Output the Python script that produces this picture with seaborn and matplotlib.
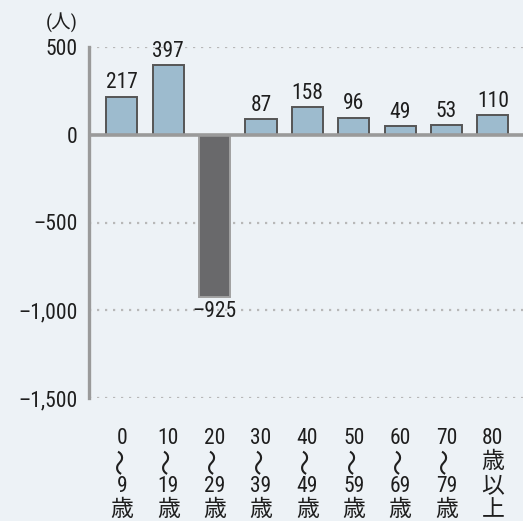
import matplotlib
matplotlib.use("Agg")
import matplotlib.pyplot as plt
import matplotlib.transforms as mtransforms
import seaborn as sns
import pandas as pd

# Net population change by age group
age_groups = ["0〜9歳", "10〜19歳", "20〜29歳", "30〜39歳", "40〜49歳",
              "50〜59歳", "60〜69歳", "70〜79歳", "80歳以上"]
# each axis label written top-to-bottom, one entry per line
label_lines = [["0", "〜", "9", "歳"], ["10", "〜", "19", "歳"], ["20", "〜", "29", "歳"],
               ["30", "〜", "39", "歳"], ["40", "〜", "49", "歳"], ["50", "〜", "59", "歳"],
               ["60", "〜", "69", "歳"], ["70", "〜", "79", "歳"], ["80", "歳", "以", "上"]]
values = [217, 397, -925, 87, 158, 96, 49, 53, 110]
y_ticks = [500, 0, -500, -1000, -1500]
unit_label = "(人)"

sns.set_theme(style="white")
FONT = ["Roboto Condensed", "Noto Sans CJK JP", "DejaVu Sans"]
plt.rcParams["font.family"] = FONT

BG = "#edf2f6"
POS = "#95bdd6"
NEG = "#69696b"
INK = "#1e1e1e"
MINUS = "–"

W, H = 523, 521
df = pd.DataFrame({"age": age_groups, "value": values})
colors = [POS if v >= 0 else NEG for v in values]

fig = plt.figure(figsize=(W / 100, H / 100), dpi=100, facecolor=BG)
ax = fig.add_axes([89 / W, 123 / H, 1 - 89 / W, 351 / H])
ax.set_facecolor(BG)

sns.barplot(data=df, x="age", y="value", hue="age", palette=colors,
            legend=False, width=0.67, ax=ax, zorder=3)

for patch, v in zip(ax.patches, values):
    patch.set_edgecolor("#555555" if v >= 0 else "#a0a0a0")
    patch.set_linewidth(1.4)

ax.set_xlim(-0.71, 8.65)
ax.set_ylim(-1500, 500)

# dotted reference lines and solid zero line
for y in [500, -500, -1000, -1500]:
    ax.axhline(y, color="#b8b8b8", lw=1.6, ls=(0, (1, 2.6)), zorder=1)
ax.axhline(0, color="#9a9a9a", lw=2.6, zorder=4)

for s in ["top", "right", "bottom"]:
    ax.spines[s].set_visible(False)
ax.spines["left"].set_color("#9a9a9a")
ax.spines["left"].set_linewidth(2.4)

ax.set_yticks(y_ticks)
ax.set_yticklabels([f"{t:,}".replace("-", MINUS) for t in y_ticks])
ax.tick_params(axis="y", length=0, pad=8, labelsize=15.5, colors=INK)
ax.set_xticks(range(len(age_groups)))
ax.set_xticklabels([])
ax.tick_params(axis="x", length=0)
ax.set_xlabel("")
ax.set_ylabel("")

# vertical category labels under each bar
trans = mtransforms.blended_transform_factory(ax.transData, fig.transFigure)
line_y = [438, 461, 486, 510]
for i, lines in enumerate(label_lines):
    for text, yp in zip(lines, line_y):
        if text == "〜":
            ax.text(i, 1 - yp / H, text, transform=trans, ha="center", va="center",
                    fontsize=19, rotation=90, color=INK, family=["Noto Sans CJK JP"])
        elif text.isdigit():
            ax.text(i, 1 - yp / H, text, transform=trans, ha="center", va="center",
                    fontsize=15.5, color=INK)
        else:
            ax.text(i, 1 - yp / H, text, transform=trans, ha="center", va="center",
                    fontsize=16.5, color=INK, family=["Noto Sans CJK JP"])

# value labels
for i, v in enumerate(values):
    txt = f"{v}".replace("-", MINUS)
    if v >= 0:
        ax.annotate(txt, (i, v), xytext=(0, 2.5), textcoords="offset points",
                    ha="center", va="bottom", fontsize=15.5, color=INK)
    else:
        ax.annotate(txt, (i, v), xytext=(0, -3), textcoords="offset points",
                    ha="center", va="top", fontsize=15.5, color=INK)

fig.text(62 / W, 1 - 22 / H, unit_label, ha="center", va="center",
         fontsize=14, color=INK)

fig.savefig("out.png", dpi=100, facecolor=BG)
